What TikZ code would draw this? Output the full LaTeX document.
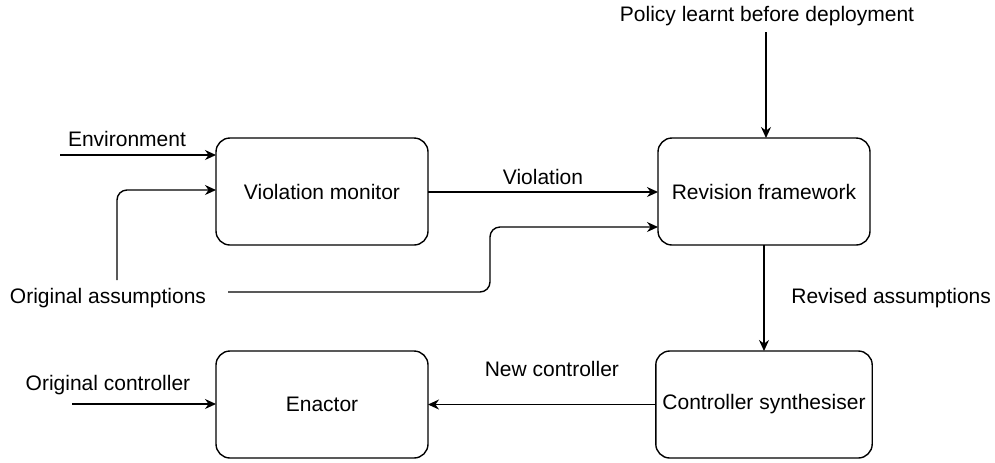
\documentclass[tikz,border=0pt]{standalone}
\usepackage{fontspec}
\setmainfont{Liberation Sans}
\usetikzlibrary{arrows.meta}

\begin{document}
\begin{tikzpicture}[x=0.5pt,y=-0.5pt,>={Stealth[length=5.5pt,width=5pt]},
  box/.style={draw,line width=0.7pt,rounded corners=7pt,minimum width=106pt,minimum height=53.5pt,outer sep=0pt},
  flow/.style={->,line width=0.7pt},
  every node/.style={font=\fontsize{10.5}{12}\selectfont}]
\useasboundingbox (0,0) rectangle (995,462);
% boxes
\node[box] (vm) at (322,191.5) {Violation monitor};
\node[box] (rf) at (764,191.5) {Revision framework};
\node[box] (cs) at (764,404.5) {Controller synthesiser};
\node[box] (en) at (322,404.5) {Enactor};
% outside inputs
\node (env) at (127,139) {Environment};
\node (oa) at (108,298) {Original assumptions};
\node (oc) at (108,385) {Original controller};
\node (pol) at (767,16) {Policy learnt before deployment};
\coordinate (envin) at (60,155);
\coordinate (oa1) at (117,280);
\coordinate (oa2) at (228,292);
\coordinate (ocin) at (72,404);
\coordinate (polin) at (766,32);
\draw[flow] (envin) -- (envin -| vm.west);
\draw[flow,rounded corners=5pt] (oa1) |- (vm.west |- 0,190);
\draw[flow,rounded corners=5pt] (oa2) -- (490,292) |- (rf.west |- 0,227);
\draw[flow] (ocin) -- (ocin -| en.west);
\draw[flow] (polin) -- (polin |- rf.north);
% between boxes
\draw[flow] (vm.east |- 0,192) --node[above] (viol) {Violation} (rf.west |- 0,192);
\draw[flow] (rf.south) --node[right=10pt] (ra) {Revised assumptions} (cs.south |- cs.north);
\draw[flow] (cs.west) --node[above=10pt,xshift=5pt] (nc) {New controller} (en.east);
\end{tikzpicture}
\end{document}
